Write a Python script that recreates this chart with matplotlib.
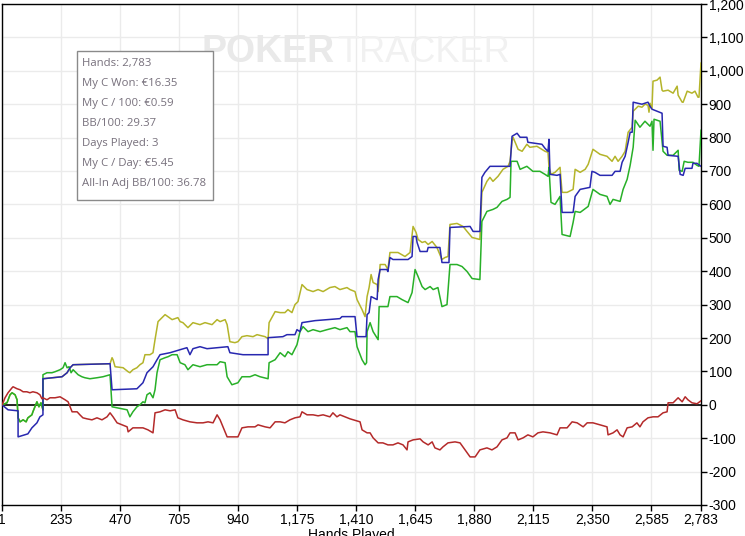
import matplotlib
matplotlib.use('Agg')
import matplotlib.pyplot as plt
from matplotlib.ticker import FuncFormatter
from matplotlib.patches import Rectangle

plt.rcParams['font.family'] = ['Liberation Sans Narrow', 'Liberation Sans', 'DejaVu Sans']

# ---------------- data ----------------
x_ticks = [1, 235, 470, 705, 940, 1175, 1410, 1645, 1880, 2115, 2350, 2585, 2783]
y_ticks = list(range(-300, 1201, 100))
x_label = "Hands Played"

stats_lines = [
    "Hands: 2,783",
    "My C Won: \u20ac16.35",
    "My C / 100: \u20ac0.59",
    "BB/100: 29.37",
    "Days Played: 3",
    "My C / Day: \u20ac5.45",
    "All-In Adj BB/100: 36.78",
]

green_hands = [1, 21, 33, 41, 53, 61, 65, 73, 85, 97,
               104, 120, 124, 140, 148, 156, 164, 164, 180, 200,
               212, 232, 244, 252, 260, 268, 276, 284, 292, 304,
               319, 331, 351, 379, 403, 431, 439, 459, 499, 510,
               522, 538, 550, 562, 570, 578, 590, 602, 610, 618,
               630, 650, 662, 678, 698, 710, 729, 741, 761, 789,
               817, 857, 869, 889, 897, 916, 940, 956, 988, 1008,
               1028, 1060, 1064, 1088, 1108, 1127, 1139, 1155, 1175, 1187,
               1199, 1219, 1239, 1267, 1295, 1326, 1346, 1374, 1386, 1406,
               1414, 1434, 1446, 1452, 1454, 1466, 1478, 1498, 1502, 1537,
               1545, 1573, 1593, 1617, 1633, 1645, 1657, 1673, 1685, 1705,
               1717, 1736, 1752, 1772, 1784, 1812, 1832, 1852, 1872, 1903,
               1911, 1931, 1955, 1971, 1991, 2011, 2023, 2027, 2051, 2063,
               2090, 2114, 2142, 2162, 2174, 2178, 2186, 2202, 2222, 2230,
               2262, 2274, 2282, 2302, 2334, 2353, 2381, 2409, 2421, 2433,
               2461, 2473, 2489, 2501, 2513, 2521, 2540, 2560, 2580, 2588,
               2592, 2596, 2620, 2632, 2648, 2672, 2692, 2696, 2708, 2716,
               2731, 2751, 2767, 2775, 2783]
green_values = [0, 6, 30, 36, 30, 15, -39, -51, -45, -51,
                -39, -30, -21, 9, -6, 6, -15, 90, 96, 96,
                99, 105, 111, 126, 111, 114, 96, 105, 99, 90,
                84, 81, 78, 81, 84, 90, -6, -9, -15, -36,
                -21, -6, 0, 9, 6, 30, 36, 21, 45, 96,
                135, 141, 144, 150, 150, 126, 120, 105, 120, 114,
                120, 120, 129, 126, 84, 60, 66, 84, 84, 90,
                84, 78, 126, 135, 156, 144, 159, 150, 180, 219,
                234, 219, 225, 219, 225, 231, 225, 231, 219, 219,
                174, 135, 120, 126, 219, 246, 219, 195, 294, 294,
                324, 324, 315, 306, 336, 405, 384, 354, 345, 354,
                345, 351, 294, 300, 420, 420, 414, 399, 378, 375,
                549, 579, 585, 591, 609, 615, 621, 729, 729, 705,
                714, 699, 699, 690, 684, 711, 606, 600, 624, 510,
                504, 546, 579, 576, 594, 645, 630, 624, 600, 615,
                609, 645, 675, 717, 771, 852, 831, 849, 834, 849,
                762, 855, 849, 759, 747, 747, 762, 702, 699, 729,
                726, 726, 717, 714, 822]

blue_hands = [1, 25, 65, 65, 104, 120, 140, 152, 164, 164,
              240, 260, 272, 284, 431, 439, 538, 562, 578, 602,
              618, 630, 670, 710, 737, 749, 761, 789, 817, 900,
              908, 960, 1060, 1060, 1119, 1135, 1167, 1175, 1187, 1195,
              1247, 1346, 1354, 1406, 1414, 1450, 1454, 1462, 1470, 1494,
              1498, 1506, 1533, 1537, 1545, 1557, 1617, 1633, 1637, 1649,
              1653, 1665, 1693, 1697, 1744, 1752, 1780, 1784, 1864, 1876,
              1903, 1911, 1923, 1943, 2023, 2031, 2051, 2063, 2090, 2094,
              2150, 2162, 2174, 2178, 2182, 2210, 2222, 2230, 2274, 2282,
              2302, 2341, 2349, 2361, 2381, 2429, 2441, 2461, 2469, 2481,
              2493, 2501, 2509, 2513, 2548, 2572, 2580, 2588, 2628, 2632,
              2648, 2652, 2692, 2700, 2712, 2720, 2747, 2751, 2767, 2783]
blue_values = [0, -15, -18, -96, -87, -69, -54, -36, -30, 78,
               84, 96, 111, 120, 123, 45, 48, 66, 96, 114,
               135, 150, 156, 165, 171, 150, 168, 174, 168, 174,
               156, 150, 150, 201, 204, 210, 210, 225, 219, 246,
               252, 258, 264, 264, 204, 204, 270, 276, 324, 315,
               375, 405, 405, 399, 441, 435, 435, 444, 504, 504,
               486, 459, 459, 471, 471, 426, 426, 531, 534, 519,
               519, 681, 696, 714, 714, 804, 813, 801, 801, 786,
               780, 768, 759, 795, 690, 687, 690, 576, 576, 624,
               645, 651, 699, 696, 687, 687, 699, 699, 726, 744,
               786, 816, 816, 906, 900, 906, 894, 885, 873, 774,
               771, 747, 744, 690, 687, 708, 708, 723, 723, 714]

olive_hands = [1, 21, 33, 41, 53, 61, 65, 73, 85, 97,
               104, 120, 124, 140, 148, 156, 164, 164, 240, 260,
               272, 284, 431, 439, 443, 451, 483, 503, 510, 522,
               538, 550, 562, 570, 590, 602, 610, 622, 650, 678,
               701, 710, 721, 741, 761, 789, 809, 837, 857, 869,
               889, 897, 908, 928, 940, 956, 976, 1000, 1016, 1048,
               1060, 1064, 1088, 1108, 1127, 1139, 1155, 1167, 1179, 1195,
               1215, 1239, 1259, 1279, 1306, 1326, 1346, 1374, 1386, 1406,
               1414, 1434, 1446, 1454, 1462, 1470, 1478, 1494, 1498, 1506,
               1526, 1537, 1545, 1577, 1605, 1625, 1637, 1649, 1657, 1673,
               1685, 1697, 1713, 1732, 1752, 1764, 1776, 1784, 1812, 1836,
               1852, 1872, 1903, 1911, 1931, 1943, 1955, 1975, 1995, 2015,
               2023, 2031, 2035, 2055, 2071, 2090, 2102, 2130, 2162, 2174,
               2178, 2186, 2202, 2222, 2230, 2250, 2274, 2282, 2302, 2322,
               2334, 2353, 2381, 2409, 2429, 2441, 2453, 2469, 2481, 2493,
               2509, 2513, 2533, 2548, 2560, 2572, 2576, 2580, 2588, 2592,
               2608, 2620, 2628, 2632, 2652, 2672, 2688, 2692, 2708, 2712,
               2728, 2747, 2759, 2771, 2775, 2783]
olive_values = [0, 6, 30, 36, 30, 15, -39, -51, -45, -51,
                -39, -30, -21, 9, -6, 6, -15, 78, 84, 96,
                111, 120, 123, 141, 135, 114, 111, 99, 96, 105,
                111, 120, 126, 150, 150, 156, 195, 249, 270, 255,
                261, 249, 246, 231, 246, 240, 246, 240, 255, 249,
                255, 240, 189, 186, 189, 204, 207, 204, 210, 204,
                198, 246, 279, 276, 276, 285, 276, 300, 309, 360,
                345, 339, 345, 339, 351, 354, 345, 351, 345, 339,
                315, 285, 264, 324, 351, 390, 366, 360, 339, 420,
                420, 405, 456, 456, 444, 456, 534, 516, 495, 486,
                489, 480, 489, 471, 435, 441, 444, 540, 543, 534,
                519, 501, 495, 636, 669, 681, 669, 684, 705, 714,
                729, 789, 801, 765, 759, 780, 771, 774, 759, 756,
                711, 690, 696, 711, 636, 636, 645, 705, 696, 705,
                720, 765, 750, 744, 729, 744, 729, 744, 759, 816,
                831, 879, 894, 891, 900, 897, 876, 903, 888, 969,
                972, 981, 942, 939, 942, 933, 954, 927, 906, 906,
                939, 933, 939, 921, 921, 1023]

red_hands = [1, 5, 13, 25, 41, 45, 61, 73, 85, 100,
             112, 124, 140, 152, 160, 164, 180, 192, 212, 232,
             252, 264, 272, 280, 300, 311, 323, 339, 359, 379,
             399, 419, 431, 443, 459, 479, 499, 503, 522, 562,
             582, 602, 610, 630, 650, 670, 690, 701, 721, 749,
             777, 801, 821, 841, 857, 869, 897, 940, 956, 980,
             1008, 1020, 1048, 1068, 1088, 1108, 1127, 1147, 1167, 1187,
             1195, 1215, 1239, 1259, 1279, 1306, 1318, 1334, 1346, 1366,
             1386, 1426, 1434, 1454, 1466, 1478, 1498, 1517, 1537, 1557,
             1577, 1597, 1613, 1617, 1637, 1665, 1677, 1697, 1713, 1724,
             1744, 1756, 1776, 1804, 1824, 1844, 1864, 1884, 1903, 1931,
             1951, 1971, 1991, 2011, 2023, 2043, 2055, 2075, 2094, 2114,
             2134, 2154, 2182, 2210, 2222, 2250, 2270, 2290, 2314, 2330,
             2353, 2381, 2409, 2413, 2433, 2449, 2461, 2473, 2489, 2509,
             2528, 2540, 2552, 2572, 2592, 2612, 2632, 2648, 2652, 2672,
             2692, 2708, 2720, 2731, 2747, 2767, 2783]
red_values = [0, 6, 21, 36, 51, 54, 48, 45, 39, 39,
              36, 39, 36, 30, 18, 21, 15, 21, 21, 24,
              15, 9, -6, -21, -21, -30, -39, -42, -45, -39,
              -45, -36, -24, -36, -54, -60, -66, -81, -69, -69,
              -75, -84, -24, -21, -15, -18, -15, -39, -45, -51,
              -54, -54, -51, -54, -30, -45, -96, -96, -69, -66,
              -66, -60, -66, -69, -51, -51, -54, -45, -39, -36,
              -21, -30, -30, -33, -30, -36, -24, -36, -30, -36,
              -42, -51, -75, -84, -84, -99, -114, -114, -120, -120,
              -114, -120, -135, -111, -105, -102, -111, -120, -111, -129,
              -135, -126, -114, -111, -114, -135, -156, -156, -135, -129,
              -135, -126, -105, -99, -84, -84, -105, -99, -90, -96,
              -84, -81, -84, -90, -69, -69, -51, -54, -66, -54,
              -54, -60, -66, -90, -84, -75, -90, -96, -69, -66,
              -54, -66, -51, -39, -36, -36, -24, -21, 6, 6,
              21, 9, 24, 15, 6, 3, 12]

assert len(green_hands) == len(green_values)
assert len(blue_hands) == len(blue_values)
assert len(olive_hands) == len(olive_values)
assert len(red_hands) == len(red_values)

# ---------------- figure ----------------
W, H = 745, 536
fig = plt.figure(figsize=(W / 100, H / 100), dpi=100)
ax = fig.add_axes([2 / W, 31 / H, 699 / W, 501 / H])
ax.set_xlim(1, 2783)
ax.set_ylim(-300, 1200)

# watermark
fig.text(202 / W, (H - 52) / H, "POKER", fontsize=27, fontweight='bold',
         color='#e9e9e9', ha='left', va='center', zorder=0)
fig.text(337 / W, (H - 52) / H, "TRACKER", fontsize=26,
         color='#f1f1f1', ha='left', va='center', zorder=0)
ax.set_facecolor('none')

ax.set_xticks(x_ticks)
ax.set_yticks(y_ticks)
fmt = FuncFormatter(lambda v, p: f"{int(round(v)):,}")
ax.xaxis.set_major_formatter(fmt)
ax.yaxis.set_major_formatter(fmt)
ax.yaxis.tick_right()
ax.tick_params(axis='both', labelsize=10, colors='black', length=4, width=1, pad=1.5)
ax.grid(True, color='#ebebeb', linewidth=1)
ax.set_axisbelow(True)
for s in ax.spines.values():
    s.set_color('black')
    s.set_linewidth(1)

ax.axhline(0, color='black', linewidth=1.2, zorder=2)

ax.plot(olive_hands, olive_values, color='#b4b42a', linewidth=1.1, zorder=3)
ax.plot(green_hands, green_values, color='#28b028', linewidth=1.1, zorder=4)
ax.plot(blue_hands, blue_values, color='#2828b0', linewidth=1.1, zorder=5)
ax.plot(red_hands, red_values, color='#b42a2a', linewidth=1.1, zorder=6)

fig.text(351.5 / W, (H - 528.5) / H, x_label, fontsize=10, ha='center', va='top')

# stats box
box = Rectangle((77 / W, (H - 200) / H), 136 / W, 149 / H, transform=fig.transFigure,
                facecolor='white', edgecolor='#8a8a8a', linewidth=1, zorder=7)
fig.add_artist(box)
for i, line in enumerate(stats_lines):
    fig.text(81.5 / W, (H - (63.5 + 20 * i)) / H, line, fontsize=8.2,
             family=['Open Sans', 'DejaVu Sans'], color='#77707c',
             ha='left', va='center', zorder=8)

fig.savefig('out.png', dpi=100)
